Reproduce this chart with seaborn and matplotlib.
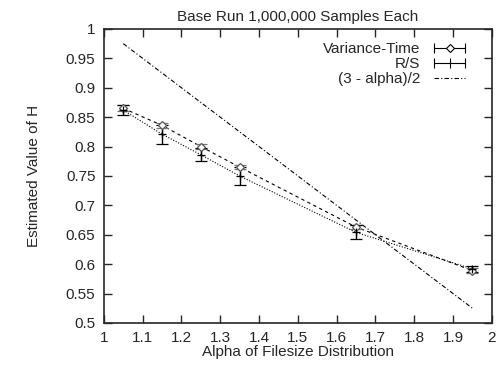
import numpy as np
import pandas as pd
import matplotlib
matplotlib.use("Agg")
import matplotlib.pyplot as plt
import seaborn as sns
from matplotlib.lines import Line2D
from matplotlib.legend_handler import HandlerLine2D, HandlerTuple

alpha = [1.05, 1.15, 1.25, 1.35, 1.65, 1.95]
vt_h = [0.865, 0.836, 0.800, 0.765, 0.663, 0.589]
vt_err = [0.005, 0.004, 0.004, 0.004, 0.004, 0.004]
rs_h = [0.862, 0.821, 0.786, 0.750, 0.654, 0.592]
rs_err = [0.008, 0.016, 0.011, 0.015, 0.012, 0.005]
theory_x = [1.05, 1.95]
theory_h = [(3 - a) / 2 for a in theory_x]

sns.set_style("ticks")
plt.rcParams['font.family'] = ['Liberation Sans', 'DejaVu Sans']

fig = plt.figure(figsize=(5.04, 3.66), dpi=100)
ax = fig.add_axes([0.206, 0.1175, 0.77, 0.8035])

df = pd.DataFrame({"alpha": alpha, "vt": vt_h, "rs": rs_h})

# variance-time: dashed line, hollow markers, gray error bars
sns.lineplot(data=df, x="alpha", y="vt", ax=ax, color="black", lw=0.8,
             linestyle=(0, (3, 3)))
ax.errorbar(alpha, vt_h, yerr=vt_err, fmt="D", mfc="white", mec="#555555",
            ms=4, mew=0.9, ecolor="#777777", elinewidth=1, capsize=4,
            capthick=1)

# R/S: dotted line, black error bars
sns.lineplot(data=df, x="alpha", y="rs", ax=ax, color="black", lw=0.8,
             linestyle=(0, (1, 1.5)))
ax.errorbar(alpha, rs_h, yerr=rs_err, fmt="+", color="black", ms=6,
            mew=0.9, elinewidth=1, capsize=4, capthick=1)

# theory line
ax.plot(theory_x, theory_h, color="black", lw=0.8,
        linestyle=(0, (4, 2, 1, 2)))

ax.set_xlim(1, 2)
ax.set_ylim(0.5, 1)
ax.set_xticks(np.arange(1, 2.01, 0.1))
ax.set_xticklabels(["1", "1.1", "1.2", "1.3", "1.4", "1.5", "1.6", "1.7",
                    "1.8", "1.9", "2"])
ax.set_yticks(np.arange(0.5, 1.001, 0.05))
ax.set_yticklabels(["0.5", "0.55", "0.6", "0.65", "0.7", "0.75", "0.8",
                    "0.85", "0.9", "0.95", "1"])
ax.tick_params(direction="in", top=True, right=True, length=6, width=1,
               labelsize=11, pad=6)
for s in ax.spines.values():
    s.set_linewidth(1.2)

ax.set_xlabel("Alpha of Filesize Distribution", fontsize=11, labelpad=0)
ax.set_ylabel("Estimated Value of H", fontsize=11, labelpad=18)
ax.set_title("Base Run 1,000,000 Samples Each", fontsize=11, pad=6)

# gnuplot-like legend samples
bar_vt = Line2D([], [], color="black", lw=0.8, marker="|", ms=7, mew=0.8)
dia_vt = Line2D([], [], ls="none", marker="D", ms=4, mfc="white",
                mec="black", mew=0.8)
bar_rs = Line2D([], [], color="black", lw=0.8, marker="|", ms=7, mew=0.8)
plus_rs = Line2D([], [], ls="none", marker="|", ms=7, mew=0.8, color="black")
th = Line2D([], [], color="black", lw=0.8, linestyle=(0, (4, 2, 1, 2)))
handles = [(bar_vt, dia_vt), (bar_rs, plus_rs), th]
labels = ["Variance-Time", "R/S", "(3 - alpha)/2"]

ax.legend(handles, labels, loc="upper right", frameon=False,
          markerfirst=False, fontsize=11, handlelength=2.6, numpoints=2,
          borderaxespad=0, labelspacing=0.05, handletextpad=0.6,
          bbox_to_anchor=(0.958, 0.975),
          handler_map={tuple: HandlerTuple(ndivide=1, pad=0),
                       dia_vt: HandlerLine2D(numpoints=1),
                       plus_rs: HandlerLine2D(numpoints=1)})

fig.savefig("out.png", dpi=100)
